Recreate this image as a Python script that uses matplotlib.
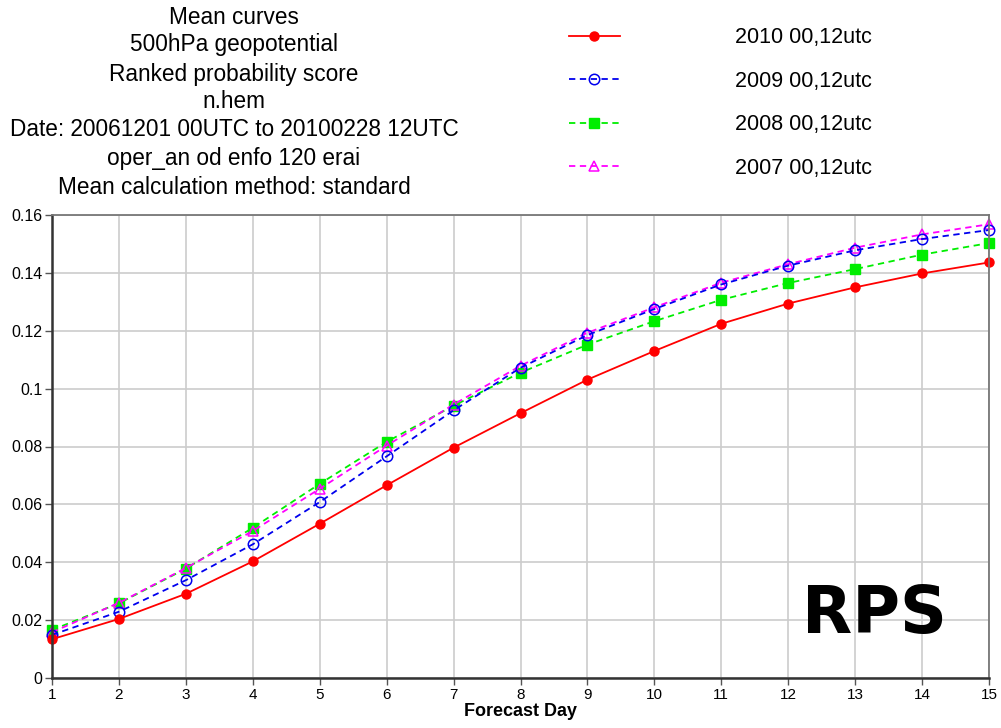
import matplotlib
matplotlib.use("Agg")
import matplotlib.pyplot as plt

days = list(range(1, 16))
rps_2010 = [0.0134, 0.0204, 0.0291, 0.0403, 0.0533, 0.0666, 0.0796, 0.0915,
            0.1031, 0.1130, 0.1224, 0.1294, 0.1350, 0.1398, 0.1436]
rps_2009 = [0.0149, 0.0229, 0.0338, 0.0462, 0.0608, 0.0766, 0.0925, 0.1072,
            0.1185, 0.1275, 0.1360, 0.1425, 0.1478, 0.1517, 0.1548]
rps_2008 = [0.0166, 0.0258, 0.0378, 0.0519, 0.0671, 0.0816, 0.0941, 0.1055,
            0.1152, 0.1233, 0.1307, 0.1365, 0.1413, 0.1463, 0.1503]
rps_2007 = [0.0158, 0.0260, 0.0380, 0.0508, 0.0654, 0.0803, 0.0945, 0.1079,
            0.1193, 0.1281, 0.1366, 0.1430, 0.1487, 0.1533, 0.1568]
labels = ["2010 00,12utc", "2009 00,12utc", "2008 00,12utc", "2007 00,12utc"]
yticks = [0, 0.02, 0.04, 0.06, 0.08, 0.1, 0.12, 0.14, 0.16]
ytick_labels = ["0", "0.02", "0.04", "0.06", "0.08", "0.1", "0.12", "0.14", "0.16"]
title_lines = ["Mean curves", "500hPa geopotential", "Ranked probability score",
               "n.hem", "Date: 20061201 00UTC to 20100228 12UTC",
               "oper_an od enfo 120 erai", "Mean calculation method: standard"]

plt.rcParams['font.family'] = ['Liberation Sans', 'DejaVu Sans']

W, H = 1001, 728
fig = plt.figure(figsize=(W / 100, H / 100), dpi=100)
ax = fig.add_axes([52 / W, 1 - 678 / H, (989 - 52) / W, (678 - 215) / H])

common = dict(linewidth=1.3, clip_on=False)
l08, = ax.plot(days, rps_2008, color='#00ee00', linestyle=(0, (3.5, 2.5)),
               marker='s', markersize=7, markerfacecolor='#00ee00',
               markeredgecolor='#00ee00', label=labels[2], **common)
l07, = ax.plot(days, rps_2007, color='#ff00ff', linestyle=(0, (3.5, 2.5)),
               marker='^', markersize=7, markerfacecolor='none',
               markeredgecolor='#ff00ff', markeredgewidth=1.1, label=labels[3], **common)
l09, = ax.plot(days, rps_2009, color='#0000ee', linestyle=(0, (3.5, 2.5)),
               marker='o', markersize=7.5, markerfacecolor='none',
               markeredgecolor='#0000ee', markeredgewidth=1.1, label=labels[1], **common)
l10, = ax.plot(days, rps_2010, color='#ff0000', linestyle='-',
               marker='o', markersize=6.5, markerfacecolor='#ff0000',
               markeredgecolor='#ff0000', label=labels[0], **common)

ax.set_xlim(1, 15)
ax.set_ylim(0, 0.16)
ax.set_xticks(days)
ax.set_xticklabels([str(d) for d in days], fontsize=11)
ax.set_yticks(yticks)
ax.set_yticklabels(ytick_labels, fontsize=11.5)
ax.grid(True, color='#cccccc', linewidth=1.2)
ax.set_axisbelow(True)
for s in ['left', 'bottom']:
    ax.spines[s].set_color('#333333')
    ax.spines[s].set_linewidth(1.8)
for s in ['top', 'right']:
    ax.spines[s].set_color('#777777')
    ax.spines[s].set_linewidth(1.3)
ax.tick_params(axis='both', direction='out', length=5, width=1, color='#555555', pad=2)
ax.set_xlabel("Forecast Day", fontsize=13, fontweight='bold', labelpad=1)

ax.text(0.878, 0.137, "RPS", transform=ax.transAxes, fontsize=47, fontweight='bold',
        family='DejaVu Sans', ha='center', va='center')

# title block
ys = [17, 45, 74, 101, 130, 158, 187]
for line, y in zip(title_lines, ys):
    fig.text(234 / W, 1 - y / H, line, ha='center', va='center', fontsize=16.3)

leg = fig.legend(handles=[l10, l09, l08, l07], labels=labels,
                 loc='upper left', bbox_to_anchor=(554 / W, 1 - 12 / H),
                 frameon=False, fontsize=15.5, handlelength=2.35,
                 handletextpad=5.35, labelspacing=1.05, borderpad=0.2)

fig.savefig("out.png", dpi=100)
